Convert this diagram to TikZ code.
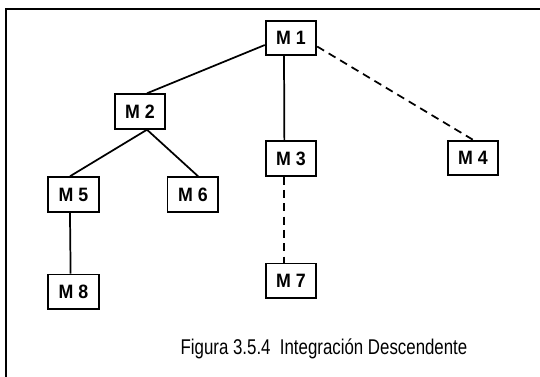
\documentclass[tikz,border=0pt]{standalone}
\usepackage{fontspec}
\setmainfont{Liberation Sans}
\newfontfamily\estrecha[FakeStretch=0.79]{Liberation Sans}
\newfontfamily\etiqueta[FakeStretch=0.92]{Liberation Sans}
\usetikzlibrary{positioning}

\begin{document}
\begin{tikzpicture}[
    x=0.75pt, y=-0.75pt,
    node distance=45pt and 50pt,
    modulo/.style={
        draw,
        line width=1.3pt,
        minimum width=38pt,
        minimum height=26pt,
        inner sep=0pt,
        font=\etiqueta\fontsize{14.5}{16}\selectfont\bfseries
    },
    enlace/.style={line width=1.3pt},
    pendiente/.style={line width=1.3pt, dash pattern=on 6pt off 4pt}
]
    \useasboundingbox (0,0) rectangle (540,377);
    %% Marco
    \draw[line width=1pt] (6,377) -- (6,9) -- (540,9);
    %% Nivel 1
    \node[modulo] (m1) at (291,38) {M 1};
    %% Nivel 2
    \node[modulo] (m2) at (140,111.5) {M 2};
    \node[modulo, below=63pt of m1] (m3) {M 3};
    \node[modulo] (m4) at (473,158) {M 4};
    %% Nivel 3
    \node[modulo] (m5) at (73.5,194.5) {M 5};
    \node[modulo, right=50.25pt of m5] (m6) {M 6};
    \node[modulo, below=64.5pt of m3] (m7) {M 7};
    %% Nivel 4
    \node[modulo, below=45.75pt of m5] (m8) {M 8};
    %% Titulo
    \node[anchor=base, font=\estrecha\fontsize{16}{19}\selectfont] (titulo) at (324,355)
        {Figura 3.5.4\ \ Integración Descendente};

    %% Enlaces
    \draw[enlace] (m1.195) -- (m2.69);
    \draw[enlace] (m1.-111) -- (m3.110);
    \draw[pendiente] (m1.-18) -- (m4.north);
    \draw[enlace] (m2.-69) -- (m5.101);
    \draw[enlace] (m2.-69) -- (m6.74);
    \draw[enlace] (m5.-101) -- (m8.99);
    \draw[pendiente] (m3.-112) -- (m7.112);
\end{tikzpicture}
\end{document}
